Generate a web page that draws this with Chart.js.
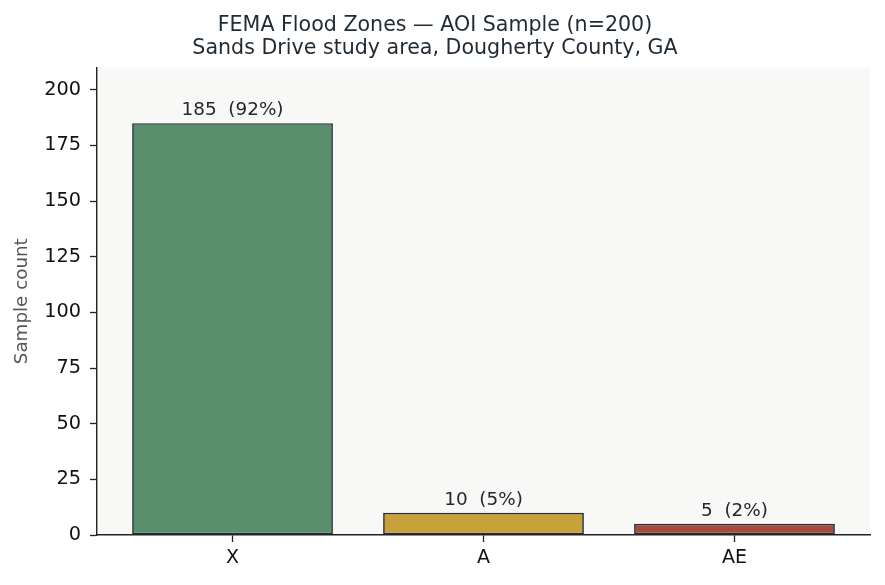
<!DOCTYPE html>
<html>
<head>
<meta charset="utf-8">
<script src="https://cdn.jsdelivr.net/npm/chart.js@4.4.0/dist/chart.umd.min.js"></script>
<style>
  html, body { margin: 0; padding: 0; background: #ffffff; }
  #wrap { width: 885px; height: 585px; }
</style>
</head>
<body>
<div id="wrap"><canvas id="c" width="885" height="585"></canvas></div>
<script>
const categories = ["X", "A", "AE"];
const counts = [185, 10, 5];
const pctLabels = ["92%", "5%", "2%"];
const barColors = ["#5a8f6e", "#c8a13a", "#a84b3c"];
const yTicks = [0, 25, 50, 75, 100, 125, 150, 175, 200];
const titleLines = ["FEMA Flood Zones \u2014 AOI Sample (n=200)", "Sands Drive study area, Dougherty County, GA"];

const FONT = "'DejaVu Sans', sans-serif";

const bgPlugin = {
  id: 'plotBg',
  beforeDraw(chart) {
    const { ctx, chartArea: a } = chart;
    ctx.save();
    ctx.fillStyle = '#f8f8f6';
    ctx.fillRect(a.left, a.top, a.right - a.left, a.bottom - a.top);
    ctx.restore();
  }
};

const labelPlugin = {
  id: 'barLabels',
  afterDatasetsDraw(chart) {
    const { ctx } = chart;
    const meta = chart.getDatasetMeta(0);
    ctx.save();
    ctx.font = "18.4px " + FONT;
    ctx.fillStyle = '#222831';
    ctx.textAlign = 'center';
    ctx.textBaseline = 'alphabetic';
    meta.data.forEach((el, i) => {
      ctx.fillText(counts[i] + "  (" + pctLabels[i] + ")", el.x, el.y - 8);
    });
    ctx.restore();
  }
};

new Chart(document.getElementById('c'), {
  type: 'bar',
  data: {
    datasets: [{
      data: counts.map((v, i) => ({ x: i, y: v })),
      backgroundColor: barColors,
      borderColor: '#262e36',
      borderWidth: 1.7,
      borderSkipped: false,
      barPercentage: 0.8,
      categoryPercentage: 1.0
    }]
  },
  options: {
    responsive: false,
    animation: false,
    devicePixelRatio: 1,
    layout: { padding: { top: 0, right: 15, bottom: 0, left: 0 } },
    plugins: {
      legend: { display: false },
      tooltip: { enabled: false },
      title: {
        display: true,
        text: titleLines,
        color: '#1f2a33',
        font: { family: FONT, size: 20.6, weight: 'normal', lineHeight: 1.08 },
        padding: { top: 15, bottom: 8 }
      }
    },
    scales: {
      x: {
        type: 'linear',
        min: -0.54,
        max: 2.54,
        offset: false,
        afterBuildTicks(scale) {
          scale.ticks = categories.map((c, i) => ({ value: i }));
        },
        afterFit(scale) { scale.height = 50; },
        ticks: {
          callback: (v) => categories[v] ?? '',
          color: '#111111',
          font: { family: FONT, size: 19 },
          padding: 5,
          maxRotation: 0,
          autoSkip: false
        },
        grid: {
          display: true,
          offset: false,
          drawOnChartArea: false,
          drawTicks: true,
          tickLength: 7,
          tickColor: '#222222',
          tickWidth: 1.3
        },
        border: { display: true, color: '#222222', width: 1.4 }
      },
      y: {
        min: 0,
        max: 210,
        afterBuildTicks(scale) {
          scale.ticks = yTicks.map(v => ({ value: v }));
        },
        afterFit(scale) { scale.width = 97; },
        title: {
          display: true,
          text: 'Sample count',
          color: '#555555',
          font: { family: FONT, size: 18.3 },
          padding: { top: 11.5, bottom: 0 }
        },
        ticks: {
          color: '#111111',
          font: { family: FONT, size: 19.3 },
          padding: 9
        },
        grid: {
          display: true,
          drawOnChartArea: false,
          drawTicks: true,
          tickLength: 7,
          tickColor: '#222222',
          tickWidth: 1.3
        },
        border: { display: true, color: '#222222', width: 1.4 }
      }
    }
  },
  plugins: [bgPlugin, labelPlugin]
});
</script>
</body>
</html>
